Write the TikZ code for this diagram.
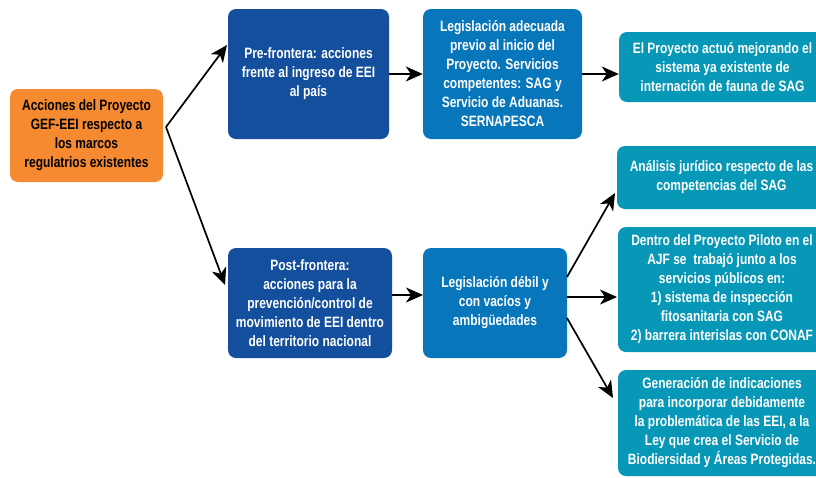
\documentclass[tikz,border=0pt]{standalone}
\usepackage{fontspec}
\setmainfont{Liberation Sans}[FakeStretch=0.8]
\usetikzlibrary{arrows.meta}
\definecolor{orangebox}{RGB}{245,138,48}
\definecolor{darkbluebox}{RGB}{19,79,156}
\definecolor{midbluebox}{RGB}{8,118,186}
\definecolor{tealbox}{RGB}{6,152,182}
\begin{document}
\begin{tikzpicture}[x=1pt,y=-1pt,
  box/.style={rounded corners=8pt, inner sep=0pt, align=center,
    font=\fontsize{15}{19}\selectfont\bfseries, text=white},
  orangeb/.style={box, fill=orangebox, text=black},
  darkb/.style={box, fill=darkbluebox},
  midb/.style={box, fill=midbluebox},
  tealb/.style={box, fill=tealbox},
  arr/.style={draw=black, line width=1.7pt, -{Stealth[length=17pt,width=15pt,inset=5pt]}}
]
\useasboundingbox (0,0) rectangle (816,477);

\node[orangeb, minimum width=153pt, minimum height=93pt] (org) at (86.5,135.5)
  {Acciones del Proyecto\\GEF-EEI respecto a\\los marcos\\regulatrios existentes};

\node[darkb, minimum width=161pt, minimum height=130pt] (pre) at (308.5,74)
  {Pre-frontera: acciones\\frente al ingreso de EEI\\al país};
\node[midb, minimum width=159pt, minimum height=130pt] (leg1) at (502.5,74)
  {Legislación adecuada\\previo al inicio del\\Proyecto. Servicios\\competentes: SAG y\\Servicio de Aduanas.\\SERNAPESCA};
\node[tealb, minimum width=207pt, minimum height=70pt] (proj) at (722.5,67)
  {El Proyecto actuó mejorando el\\sistema ya existente de\\internación de fauna de SAG};

\node[darkb, minimum width=164pt, minimum height=110pt] (post) at (310,303)
  {Post-frontera:\\acciones para la\\prevención/control de\\movimiento de EEI dentro\\del territorio nacional};
\node[midb, minimum width=144pt, minimum height=110pt] (leg2) at (495,303)
  {Legislación débil y\\con vacíos y\\ambigüedades};

\node[tealb, minimum width=209pt, minimum height=63pt] (anal) at (721.5,177.5)
  {Análisis jurídico respecto de las\\competencias del SAG};
\node[tealb, minimum width=208pt, minimum height=125pt] (dentro) at (722,289.5)
  {Dentro del Proyecto Piloto en el\\AJF se\ \ trabajó junto a los\\servicios públicos en:\\1) sistema de inspección\\fitosanitaria con SAG\\2) barrera interislas con CONAF};
\node[tealb, minimum width=208pt, minimum height=106pt] (gen) at (722,423)
  {Generación de indicaciones\\para incorporar debidamente\\la problemática de las EEI, a la\\Ley que crea el Servicio de\\Biodiersidad y Áreas Protegidas.};

% connector points
\coordinate (s1) at (166,127);
\coordinate (t1) at (227,45);
\coordinate (t2) at (225,285);
\coordinate (p1) at (392,295);
\coordinate (q1) at (423,295);
\coordinate (d1) at (567,277);
\coordinate (d2) at (567,297);
\coordinate (d3) at (567,318);
\coordinate (e1) at (615,193);
\coordinate (e2) at (617,297);
\coordinate (e3) at (613,398);

\draw[arr] (s1) -- (t1);
\draw[arr] (s1) -- (t2);
\draw[arr] (pre) -- (leg1);
\draw[arr] (leg1.east) -- (leg1.east -| proj.west);
\draw[arr] (p1) -- (q1);
\draw[arr] (d1) -- (e1);
\draw[arr] (d2) -- (e2);
\draw[arr] (d3) -- (e3);
\end{tikzpicture}
\end{document}
